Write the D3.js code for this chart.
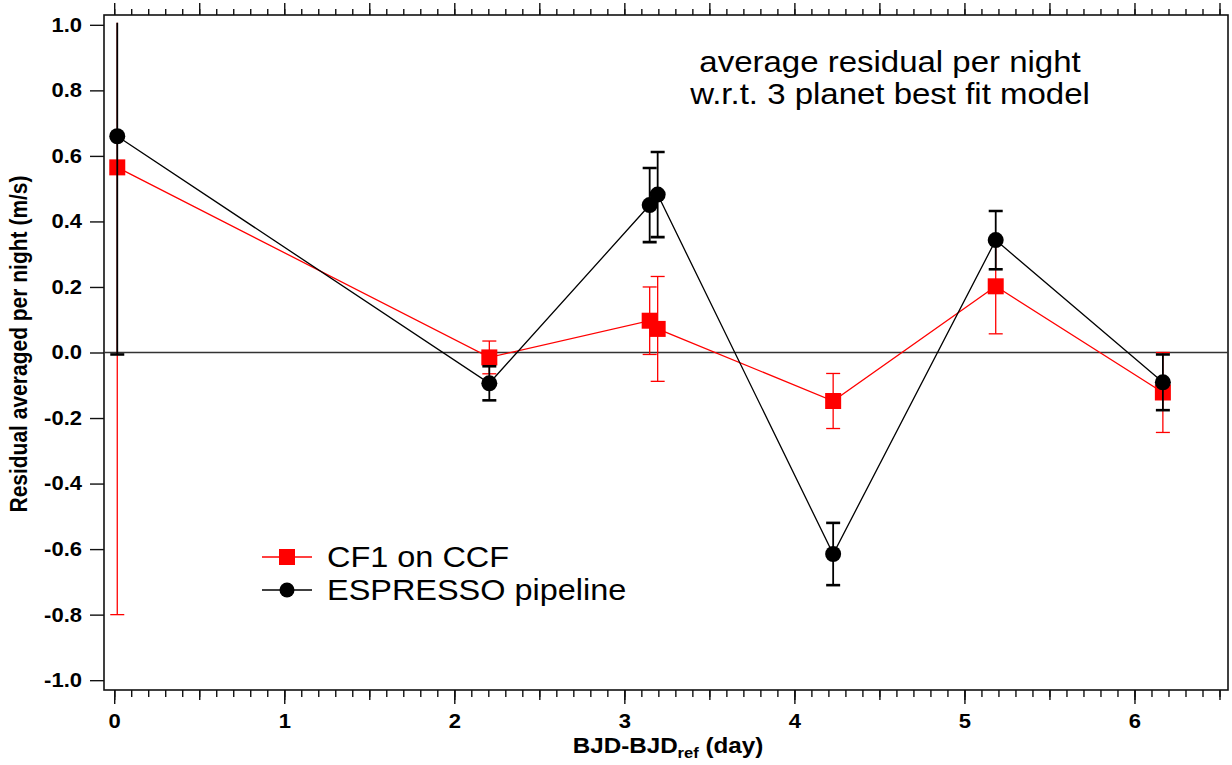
<!DOCTYPE html>
<html>
<head>
<meta charset="utf-8">
<script src="https://cdn.jsdelivr.net/npm/d3@7"></script>
<style>
  html, body { margin: 0; padding: 0; background: #fff; }
  svg { display: block; }
  text { font-family: "Liberation Sans", Arial, Helvetica, sans-serif; fill: #000; }
</style>
</head>
<body>
<svg id="chart" width="1232" height="765"></svg>
<script>
// ---------------- data ----------------
const nightTimes = [0.018, 2.206, 3.149, 3.196, 4.228, 5.184, 6.167];       // BJD-BJDref (day)
const cf1Values  = [0.565, -0.015, 0.097, 0.072, -0.148, 0.202, -0.122];    // CF1 on CCF (m/s)
const cf1Errors  = [1.365, 0.050, 0.103, 0.160, 0.084, 0.145, 0.122];
const espValues  = [0.660, -0.094, 0.450, 0.482, -0.615, 0.343, -0.091];    // ESPRESSO pipeline (m/s)
const espErrors  = [0.666, 0.052, 0.113, 0.130, 0.095, 0.089, 0.085];
const yTickValues = [-1.0, -0.8, -0.6, -0.4, -0.2, 0.0, 0.2, 0.4, 0.6, 0.8, 1.0];
const xTickValues = [0, 1, 2, 3, 4, 5, 6];
const seriesNames = ["CF1 on CCF", "ESPRESSO pipeline"];
const annotationLines = ["average residual per night", "w.r.t. 3 planet best fit model"];

// ---------------- layout ----------------
const pL = 104, pR = 1228, pT = 15, pB = 690;
const SX = 1.1; // horizontal text stretch seen in the reference

const x = d3.scaleLinear().domain([-0.06, 6.55]).range([pL, pR]);
const y = d3.scaleLinear().domain([-1.03, 1.03]).range([pB, pT]);

const svg = d3.select("#chart");

function stretchText(sel) {
  sel.each(function () {
    const t = d3.select(this);
    const tx = +t.attr("x") || 0, ty = +t.attr("y") || 0;
    t.attr("x", 0).attr("y", 0).attr("transform", `translate(${tx},${ty}) scale(${SX},1)`);
  });
}

// clip (error bars are cut just above 1.0 in the reference)
svg.append("clipPath").attr("id", "clip")
  .append("rect").attr("x", pL).attr("y", y(1.006))
  .attr("width", pR - pL).attr("height", pB - y(1.006));

// ---------------- axes ----------------
const minorX = d3.range(0, 66).map(i => i / 10).filter(v => v <= 6.55);
const halfX = d3.range(0, 14).map(i => i / 2).filter(v => v <= 6.55);

svg.append("g").attr("transform", `translate(0,${pB})`)
  .call(d3.axisBottom(x).tickValues(minorX).tickSize(7).tickFormat(""))
  .call(g => g.select(".domain").remove());
svg.append("g").attr("transform", `translate(0,${pB})`)
  .call(d3.axisBottom(x).tickValues(halfX).tickSize(10).tickFormat(""))
  .call(g => g.select(".domain").remove());
const xAxis = svg.append("g").attr("transform", `translate(0,${pB})`)
  .call(d3.axisBottom(x).tickValues(xTickValues).tickSize(14).tickPadding(10).tickFormat(d => String(d)))
  .call(g => g.select(".domain").remove());
xAxis.selectAll("text").attr("font-size", 20).attr("font-weight", "bold")
  .attr("font-family", "Liberation Sans, Arial, sans-serif").attr("fill", "#000");
stretchText(xAxis.selectAll("text"));

svg.append("g").attr("transform", `translate(0,${pT})`)
  .call(d3.axisTop(x).tickValues(minorX).tickSize(6).tickFormat(""))
  .call(g => g.select(".domain").remove());
svg.append("g").attr("transform", `translate(0,${pT})`)
  .call(d3.axisTop(x).tickValues(halfX).tickSize(12).tickFormat(""))
  .call(g => g.select(".domain").remove());

const yAxis = svg.append("g").attr("transform", `translate(${pL},0)`)
  .call(d3.axisLeft(y).tickValues(yTickValues).tickSize(14).tickPadding(8).tickFormat(d => d.toFixed(1)))
  .call(g => g.select(".domain").remove());
yAxis.selectAll("text").attr("font-size", 20).attr("font-weight", "bold")
  .attr("font-family", "Liberation Sans, Arial, sans-serif").attr("fill", "#000");
stretchText(yAxis.selectAll("text"));

svg.selectAll(".tick line").attr("stroke", "#111").attr("stroke-width", 1.4);

// frame
svg.append("rect").attr("x", pL).attr("y", pT).attr("width", pR - pL).attr("height", pB - pT)
  .attr("fill", "none").attr("stroke", "#111").attr("stroke-width", 1.6);

// zero line
svg.append("line").attr("x1", pL).attr("x2", pR).attr("y1", y(0)).attr("y2", y(0))
  .attr("stroke", "#333").attr("stroke-width", 1.5);

// axis titles
const xt = svg.append("text").attr("text-anchor", "middle").attr("font-size", 22).attr("font-weight", "bold")
  .attr("transform", `translate(668,753) scale(${SX},1)`);
xt.append("tspan").text("BJD-BJD");
xt.append("tspan").attr("font-size", 15).attr("dy", 5).text("ref");
xt.append("tspan").attr("dy", -5).text(" (day)");

svg.append("text").attr("text-anchor", "middle").attr("font-size", 21).attr("font-weight", "bold")
  .attr("transform", `translate(27,344) rotate(-90) scale(1,${SX})`)
  .text("Residual averaged per night (m/s)");

// ---------------- series ----------------
const plot = svg.append("g").attr("clip-path", "url(#clip)");
const cf1Data = nightTimes.map((t, i) => ({ t, v: cf1Values[i], e: cf1Errors[i] }));
const espData = nightTimes.map((t, i) => ({ t, v: espValues[i], e: espErrors[i] }));
const line = d3.line().x(d => x(d.t)).y(d => y(d.v));
const capW = 14;

function drawSeries(data, color, barW, capStroke, marker) {
  const g = plot.append("g");
  g.append("path").datum(data).attr("d", line).attr("fill", "none")
    .attr("stroke", color).attr("stroke-width", 1.3);
  const eb = g.append("g").selectAll("g").data(data).join("g");
  eb.append("line").attr("x1", d => x(d.t)).attr("x2", d => x(d.t))
    .attr("y1", d => y(d.v - d.e)).attr("y2", d => y(d.v + d.e))
    .attr("stroke", color).attr("stroke-width", barW);
  eb.append("line").attr("x1", d => x(d.t) - capW / 2).attr("x2", d => x(d.t) + capW / 2)
    .attr("y1", d => y(d.v - d.e)).attr("y2", d => y(d.v - d.e))
    .attr("stroke", color).attr("stroke-width", capStroke);
  eb.append("line").attr("x1", d => x(d.t) - capW / 2).attr("x2", d => x(d.t) + capW / 2)
    .attr("y1", d => y(d.v + d.e)).attr("y2", d => y(d.v + d.e))
    .attr("stroke", color).attr("stroke-width", capStroke);
  if (marker === "square") {
    g.append("g").selectAll("rect").data(data).join("rect")
      .attr("x", d => x(d.t) - 8).attr("y", d => y(d.v) - 8)
      .attr("width", 16).attr("height", 16).attr("fill", color);
  } else {
    g.append("g").selectAll("circle").data(data).join("circle")
      .attr("cx", d => x(d.t)).attr("cy", d => y(d.v)).attr("r", 8).attr("fill", color);
  }
}
drawSeries(cf1Data, "#ff0000", 1.3, 1.3, "square");
drawSeries(espData, "#000000", 1.8, 2.6, "circle");

// ---------------- legend ----------------
const legend = svg.append("g");
const legendRows = [
  { name: seriesNames[0], color: "#ff0000", marker: "square", yy: 557 },
  { name: seriesNames[1], color: "#000000", marker: "circle", yy: 590 }
];
legendRows.forEach(r => {
  legend.append("line").attr("x1", 262).attr("x2", 312).attr("y1", r.yy).attr("y2", r.yy)
    .attr("stroke", r.color).attr("stroke-width", 1.3);
  if (r.marker === "square") {
    legend.append("rect").attr("x", 287 - 8).attr("y", r.yy - 8).attr("width", 16).attr("height", 16).attr("fill", r.color);
  } else {
    legend.append("circle").attr("cx", 287).attr("cy", r.yy).attr("r", 7.5).attr("fill", r.color);
  }
  legend.append("text").attr("font-size", 29.5)
    .attr("transform", `translate(327,${r.yy + 10}) scale(${SX},1)`).text(r.name);
});

// ---------------- annotation ----------------
annotationLines.forEach((s, i) => {
  svg.append("text").attr("text-anchor", "middle").attr("font-size", 30)
    .attr("transform", `translate(890,${72 + i * 32}) scale(${SX},1)`).text(s);
});
</script>
</body>
</html>
